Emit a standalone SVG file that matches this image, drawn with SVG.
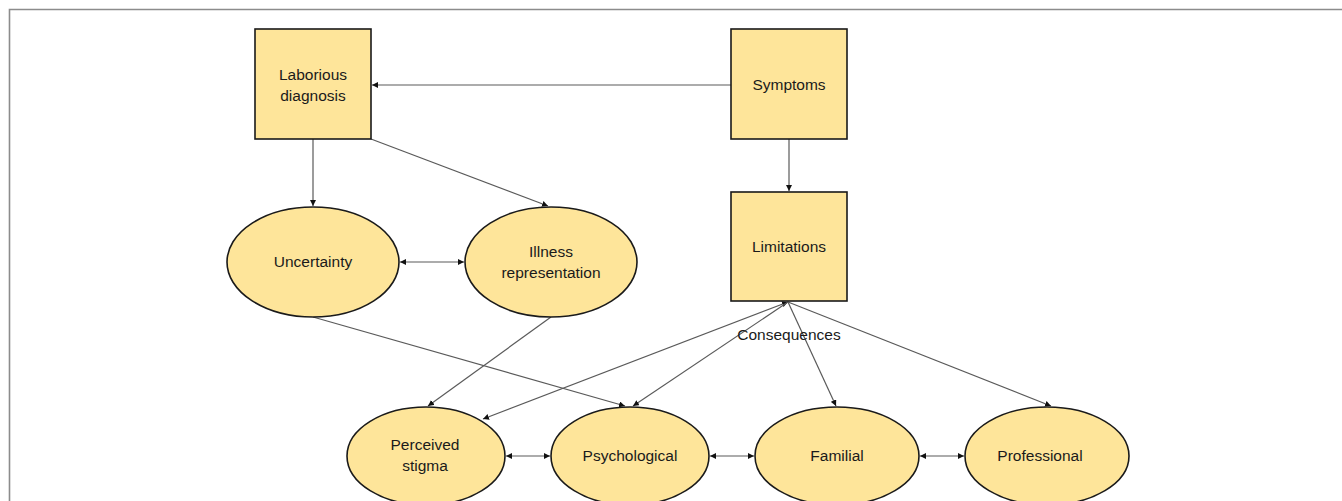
<svg xmlns="http://www.w3.org/2000/svg" width="1342" height="501" viewBox="0 0 1342 501">
<defs>
<style>
.box{fill:#FEE59A;stroke:#1a1a1a;stroke-width:1.6}
.t{font-family:"Liberation Sans",Arial,sans-serif;font-size:15.5px;fill:#1a1a1a;text-anchor:middle}
.c{stroke:#5a5a5a;stroke-width:1.2;fill:none}
.frame{stroke:#8c8c8c;stroke-width:1.6;fill:none}
</style>
<marker id="ah" viewBox="0 0 10 10" refX="10" refY="5" markerWidth="6" markerHeight="6" orient="auto-start-reverse" markerUnits="userSpaceOnUse">
<path d="M0,0 L10,5 L0,10 z" fill="#111"/>
</marker>
</defs>
<rect width="1342" height="501" fill="#fff"/>
<path class="frame" d="M9.5,501 L9.5,9.5 L1342,9.5"/>
<g id="connectors">
<line class="c" x1="731" y1="85" x2="372" y2="85" marker-end="url(#ah)"/>
<line class="c" x1="789" y1="139" x2="789" y2="191" marker-end="url(#ah)"/>
<line class="c" x1="313" y1="139" x2="313" y2="206" marker-end="url(#ah)"/>
<line class="c" x1="371" y1="139" x2="548" y2="206" marker-end="url(#ah)"/>
<line class="c" x1="400" y1="262" x2="464" y2="262" marker-start="url(#ah)" marker-end="url(#ah)"/>
<line class="c" x1="313" y1="317" x2="625" y2="406" marker-end="url(#ah)"/>
<line class="c" x1="551" y1="317" x2="428" y2="406" marker-end="url(#ah)"/>
<line class="c" x1="788" y1="302" x2="483" y2="419" marker-start="url(#ah)" marker-end="url(#ah)"/>
<line class="c" x1="788" y1="302" x2="633" y2="406" marker-end="url(#ah)"/>
<line class="c" x1="788" y1="302" x2="836" y2="406" marker-end="url(#ah)"/>
<line class="c" x1="788" y1="302" x2="1051" y2="406" marker-end="url(#ah)"/>
<line class="c" x1="506" y1="456" x2="550" y2="456" marker-start="url(#ah)" marker-end="url(#ah)"/>
<line class="c" x1="710" y1="456" x2="754" y2="456" marker-start="url(#ah)" marker-end="url(#ah)"/>
<line class="c" x1="920" y1="456" x2="964" y2="456" marker-start="url(#ah)" marker-end="url(#ah)"/>
<text class="t" x="789" y="340">Consequences</text>
</g>
<g id="laborious"><rect class="box" x="255" y="29" width="116" height="110"/><text class="t" x="313" y="80">Laborious</text><text class="t" x="313" y="101">diagnosis</text></g>
<g id="symptoms"><rect class="box" x="731" y="29" width="116" height="110"/><text class="t" x="789" y="90">Symptoms</text></g>
<g id="limitations"><rect class="box" x="731" y="192" width="116" height="109"/><text class="t" x="789" y="252">Limitations</text></g>
<g id="uncertainty"><ellipse class="box" cx="313" cy="262" rx="86" ry="55"/><text class="t" x="313" y="267">Uncertainty</text></g>
<g id="illness"><ellipse class="box" cx="551" cy="262" rx="86" ry="55"/><text class="t" x="551" y="257">Illness</text><text class="t" x="551" y="278">representation</text></g>
<g id="stigma"><ellipse class="box" cx="426" cy="456" rx="79" ry="49"/><text class="t" x="425" y="450">Perceived</text><text class="t" x="425" y="471">stigma</text></g>
<g id="psychological"><ellipse class="box" cx="630" cy="456" rx="79" ry="49"/><text class="t" x="630" y="461">Psychological</text></g>
<g id="familial"><ellipse class="box" cx="837" cy="456" rx="82" ry="49"/><text class="t" x="837" y="461">Familial</text></g>
<g id="professional"><ellipse class="box" cx="1047" cy="456" rx="82" ry="49"/><text class="t" x="1040" y="461">Professional</text></g>
</svg>
